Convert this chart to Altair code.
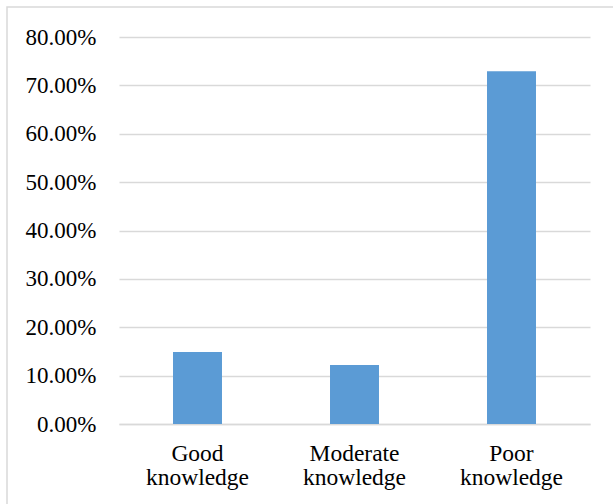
import altair as alt
import pandas as pd

categories = ["Good knowledge", "Moderate knowledge", "Poor knowledge"]
label_lines = [["Good", "knowledge"], ["Moderate", "knowledge"], ["Poor", "knowledge"]]
values = [0.149, 0.122, 0.729]
y_ticks = [0, 0.1, 0.2, 0.3, 0.4, 0.5, 0.6, 0.7, 0.8]

df = pd.DataFrame({"category": categories, "value": values})

label_expr = ("datum.value == 'Good knowledge' ? ['Good','knowledge'] : "
              "datum.value == 'Moderate knowledge' ? ['Moderate','knowledge'] : ['Poor','knowledge']")

FONT = "Liberation Serif"

bars = alt.Chart(df).mark_bar(color="#5b9bd5").encode(
    x=alt.X("category:N", sort=categories,
            scale=alt.Scale(paddingInner=0.688, paddingOuter=0.344),
            axis=alt.Axis(title=None, labelAngle=0, labelExpr=label_expr,
                          labelFont=FONT, labelFontSize=23.5, labelColor="#000000",
                          labelLineHeight=24.5, labelPadding=17, ticks=False,
                          domainColor="#d9d9d9", domainWidth=1.5, grid=False)),
    y=alt.Y("value:Q", scale=alt.Scale(domain=[0, 0.8], nice=False),
            axis=alt.Axis(title=None, format=".2%", values=y_ticks,
                          labelFont=FONT, labelFontSize=23, labelColor="#000000",
                          labelPadding=23, ticks=False, domain=False,
                          gridColor="#d9d9d9", gridWidth=1.5)),
)

frame = alt.Chart(pd.DataFrame({"a": [0]})).mark_rect(
    fill=None, stroke="#d9d9d9", strokeWidth=1.5, clip=False
).encode(
    x=alt.value(-112), x2=alt.value(520), y=alt.value(-30), y2=alt.value(500)
)

chart = alt.layer(frame, bars).properties(
    width=471, height=387,
    background="white",
    autosize=alt.AutoSizeParams(type="none"),
    padding={"left": 119, "top": 37, "right": 23, "bottom": 80},
).configure_view(strokeWidth=0, stroke="transparent")

chart.save("out.html", embed_options={"renderer": "svg", "actions": False})
